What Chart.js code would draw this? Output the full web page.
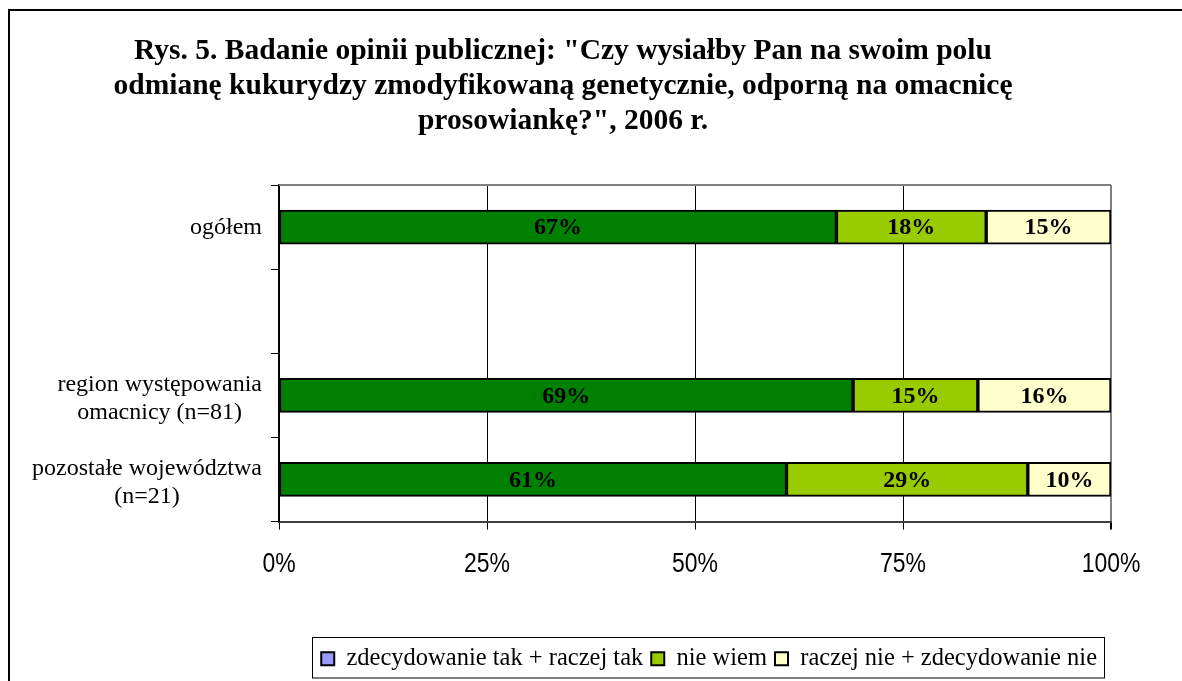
<!DOCTYPE html>
<html>
<head>
<meta charset="utf-8">
<script src="https://cdn.jsdelivr.net/npm/chart.js@4.4.1/dist/chart.umd.min.js"></script>
<style>
  html, body { margin: 0; padding: 0; background: #fff; overflow: hidden; }
  #frame { position: absolute; left: 8px; top: 9px; width: 1400px; height: 900px; border: 2px solid #000; }
  #myBars { position: absolute; left: 0; top: 0; }
</style>
</head>
<body>
<div id="frame"></div>
<canvas id="myBars" width="1182" height="681"></canvas>
<script>
const categories = [
  'ogółem',
  '',
  ['region występowania', 'omacnicy (n=81)'],
  ['pozostałe województwa', '(n=21)']
]
const seriesNames = ['zdecydowanie tak + raczej tak', 'nie wiem', 'raczej nie + zdecydowanie nie']
const takValues = [67, null, 69, 61]
const nieWiemValues = [18, null, 15, 29]
const nieValues = [15, null, 16, 10]
const xTicks = [0, 25, 50, 75, 100]

const serif = "'Liberation Serif', 'Times New Roman', serif"

// labels of the categories, right aligned as a block, lines centered
const categoryLabels = {
  id: 'categoryLabels',
  afterDraw(chart) {
    let ctx = chart.ctx
    let yScale = chart.scales.y
    ctx.save()
    ctx.font = '24px ' + serif
    ctx.fillStyle = '#000'
    ctx.textAlign = 'center'
    ctx.textBaseline = 'middle'
    categories.forEach((lab, i) => {
      let lines = Array.isArray(lab) ? lab : [lab]
      let widest = Math.max(...lines.map(l => ctx.measureText(l).width))
      let cx = 262 - widest / 2
      let cy = yScale.getPixelForValue(i) + (lines.length > 1 ? 3 : 1)
      let lh = 28
      lines.forEach((l, j) => {
        ctx.fillText(l, cx, cy + (j - (lines.length - 1) / 2) * lh)
      })
    })
    ctx.restore()
  }
}

// x tick labels in a narrow sans (squeezed Liberation Sans)
const xLabels = {
  id: 'xLabels',
  afterDraw(chart) {
    let ctx = chart.ctx
    let xScale = chart.scales.x
    ctx.save()
    ctx.font = '28px "Liberation Sans", Arial, sans-serif'
    ctx.fillStyle = '#000'
    ctx.textAlign = 'center'
    ctx.textBaseline = 'alphabetic'
    xScale.ticks.forEach(t => {
      ctx.save()
      ctx.translate(xScale.getPixelForValue(t.value), 572)
      ctx.scale(0.82, 1)
      ctx.fillText(t.value + '%', 0, 0)
      ctx.restore()
    })
    ctx.restore()
  }
}

const barLabels = {
  id: 'barLabels',
  afterDatasetsDraw(chart) {
    let ctx = chart.ctx
    ctx.save()
    ctx.font = 'bold 24px ' + serif
    ctx.fillStyle = '#000'
    ctx.textAlign = 'center'
    ctx.textBaseline = 'middle'
    chart.data.datasets.forEach((ds, d) => {
      chart.getDatasetMeta(d).data.forEach((bar, i) => {
        if (ds.data[i] == null) return
        ctx.fillText(ds.data[i] + '%', (bar.x + bar.base) / 2, bar.y + 1)
      })
    })
    ctx.restore()
  }
}

const plotFrame = {
  id: 'plotFrame',
  afterUpdate(chart) {
    chart.legend.right = 1105
  },
  beforeDatasetsDraw(chart) {
    let ctx = chart.ctx
    let a = chart.chartArea
    ctx.save()
    ctx.strokeStyle = '#808080'
    ctx.lineWidth = 2
    ctx.beginPath()
    ctx.moveTo(a.left, a.top)
    ctx.lineTo(a.right, a.top)
    ctx.stroke()
    ctx.restore()
  },
  afterDraw(chart) {
    let lg = chart.legend
    let pad = lg.options.labels.padding
    let fontSize = lg.options.labels.font.size
    let right = Math.round(lg.right) - 0.5
    let left = Math.round(lg.right - lg.lineWidths[0]) - 8.5
    let top = Math.round(lg.top + pad) - 9.5
    let ctx = chart.ctx
    ctx.save()
    ctx.strokeStyle = '#000'
    ctx.lineWidth = 1
    ctx.strokeRect(left, top, right - left, fontSize + 16)
    ctx.restore()
  }
}

function myBars() {
  let ctx = document.querySelector('#myBars').getContext('2d')
  new Chart(ctx, {
    type: 'bar',
    data: {
      labels: categories,
      datasets: [
        {label: seriesNames[0], data: takValues, backgroundColor: '#008000'},
        {label: seriesNames[1], data: nieWiemValues, backgroundColor: '#99CC00'},
        {label: seriesNames[2], data: nieValues, backgroundColor: '#FFFFCC'}
      ]
    },
    options: {
      indexAxis: 'y',
      responsive: false,
      animation: false,
      devicePixelRatio: 1,
      datasets: {
        bar: {barThickness: 34, borderColor: '#000', borderWidth: 2, borderSkipped: false}
      },
      layout: {padding: {left: 15, right: 71, top: 0, bottom: 0}},
      scales: {
        x: {
          stacked: true,
          min: 0,
          max: 100,
          afterBuildTicks: s => { s.ticks = xTicks.map(v => ({value: v})) },
          afterFit: s => { s.height = 117; s.paddingLeft = 0; s.paddingRight = 0 },
          ticks: {display: false},
          grid: {
            color: c => c.index === xTicks.length - 1 ? '#808080' : '#000',
            lineWidth: c => c.index === xTicks.length - 1 ? 2 : 1,
            tickColor: '#000',
            tickLength: 8
          },
          border: {color: '#404040', width: 2}
        },
        y: {
          stacked: true,
          afterFit: s => { s.width = 264 },
          ticks: {display: false},
          grid: {drawOnChartArea: false, drawTicks: true, tickLength: 8, tickColor: '#000', offset: true},
          border: {color: '#000', width: 2}
        }
      },
      plugins: {
        title: {
          display: true,
          text: [
            'Rys. 5. Badanie opinii publicznej: "Czy wysiałby Pan na swoim polu',
            'odmianę kukurydzy zmodyfikowaną genetycznie, odporną na omacnicę',
            'prosowiankę?", 2006 r.'
          ],
          color: '#000',
          font: {family: serif, size: 29.5, weight: 'bold', lineHeight: 35 / 29.5},
          padding: {top: 34, bottom: 46}
        },
        legend: {
          position: 'bottom',
          align: 'end',
          labels: {
            color: '#000',
            boxWidth: 13,
            boxHeight: 13,
            padding: 8,
            font: {family: serif, size: 24.5},
            generateLabels: chart => {
              let items = Chart.defaults.plugins.legend.labels.generateLabels(chart)
              items[0].fillStyle = '#9999FF'
              items.forEach(it => { it.strokeStyle = '#000'; it.lineWidth = 2 })
              return items
            }
          }
        },
        tooltip: {enabled: false}
      }
    },
    plugins: [categoryLabels, xLabels, barLabels, plotFrame]
  })
}
myBars()
</script>
</body>
</html>
